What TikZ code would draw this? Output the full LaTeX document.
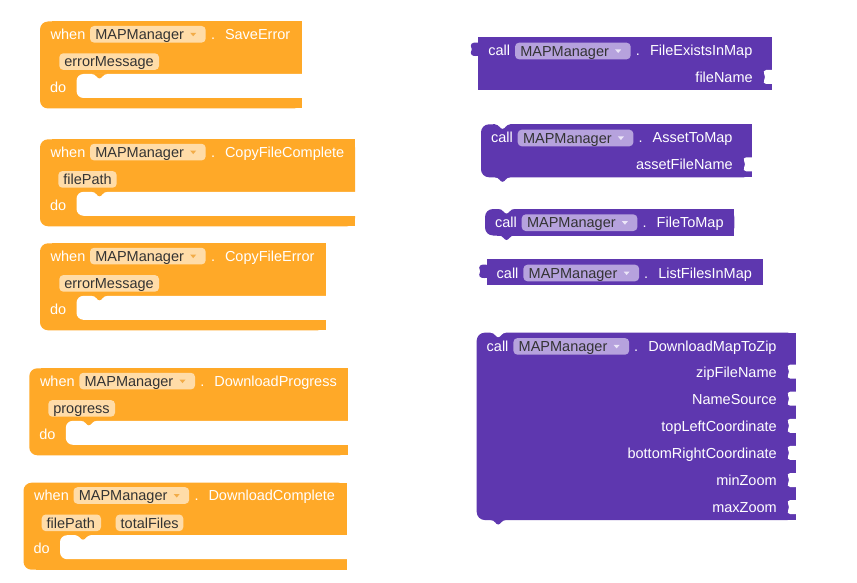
\documentclass[tikz,border=0pt]{standalone}
\usepackage{fontspec}
\setmainfont{Liberation Sans}
\definecolor{evo}{RGB}{255,169,40}
\definecolor{evpill}{RGB}{255,220,168}
\definecolor{evarrow}{RGB}{242,172,72}
\definecolor{pur}{RGB}{94,55,175}
\definecolor{purpill}{RGB}{182,162,221}
\definecolor{purarrow}{RGB}{236,230,248}
\definecolor{pilltext}{RGB}{51,51,51}
\tikzset{
  lbl/.style={inner sep=0pt, outer sep=0pt, text=white, font=\fontsize{14.5}{17}\selectfont},
  plbl/.style={lbl, text=pilltext},
}
% notch / tab of width 15, depth 4.5 (color, x, y)
\newcommand\dipnotch[3]{%
  \fill[#1] (#2,#3-0.6) -- (#2,#3) .. controls (#2+4,#3) and (#2+5,#3+4.5) .. (#2+7.5,#3+4.5)
    .. controls (#2+10,#3+4.5) and (#2+11,#3) .. (#2+15,#3) -- (#2+15,#3-0.6) -- cycle;}
% dropdown pill: name, x1, y1, x2, fill, arrow colour
\newcommand\ddpill[6]{%
  \fill[#5, rounded corners=4] (#2,#3) rectangle (#4,#3+16.6);
  \node[plbl, anchor=base west] (#1) at (#2+5.3,#3+13.5) {MAPManager};
  \fill[#6] (#4-15.5,#3+6.8) -- (#4-9.5,#3+6.8) -- (#4-12.5,#3+10.3) -- cycle;}
% parameter pill: name, x1, y1, x2, text
\newcommand\argpill[5]{%
  \fill[evpill, rounded corners=4] (#2,#3) rectangle (#4,#3+16.6);
  \node[plbl, anchor=base west] (#1) at (#2+5,#3+13.5) {#5};}
% event block body: prefix, L, T, R
\newcommand\evblk[4]{%
  \fill[evo, rounded corners=8] (#2,#3) rectangle (#4,#3+87);
  \fill[evo] (#2+12,#3) rectangle (#4,#3+87);
  \fill[white, rounded corners=7] (#2+36.5,#3+52.5) rectangle (#4+30,#3+76.5);
  \dipnotch{evo}{#2+52}{#3+52.5}
  \node[lbl, anchor=base west] (#1do) at (#2+10,#3+71) {do};}
% event header: prefix, L, T, event name
\newcommand\evhead[4]{%
  \node[lbl, anchor=base west] (#1when) at (#2+10.7,#3+18) {when};
  \ddpill{#1comp}{#2+50}{#3+4.5}{#2+165.7}{evpill}{evarrow}
  \node[lbl, anchor=base west] (#1dot) at (#2+171,#3+18) {.};
  \node[lbl, anchor=base west] (#1name) at (#2+185,#3+18) {#4};}
% output tab on the left: L, top
\newcommand\outtab[2]{%
  \fill[pur] (#1+1,#2) -- (#1,#2) .. controls (#1-3,#2-0.5) and (#1-7.5,#2-0.5) .. (#1-7.5,#2+3)
    .. controls (#1-7.5,#2+5) and (#1-6.5,#2+5.5) .. (#1-6.5,#2+6.5)
    .. controls (#1-6.5,#2+7.5) and (#1-7.5,#2+8) .. (#1-7.5,#2+10)
    .. controls (#1-7.5,#2+13.5) and (#1-3,#2+13.5) .. (#1,#2+13) -- (#1+1,#2+13) -- cycle;}
% input hole on the right: R, centre y
\newcommand\inhole[2]{%
  \fill[white] (#1+0.5,#2-7) -- (#1-5.5,#2-7) .. controls (#1-8,#2-7) and (#1-8.5,#2-5) .. (#1-7.5,#2-3)
    .. controls (#1-6.5,#2-1) and (#1-6.5,#2+1) .. (#1-7.5,#2+3)
    .. controls (#1-8.5,#2+5) and (#1-8,#2+7) .. (#1-5.5,#2+7) -- (#1+0.5,#2+7) -- cycle;}
% value block: L, T, R, B
\newcommand\valblk[4]{%
  \fill[pur] (#1,#2) rectangle (#3,#4);
  \outtab{#1}{#2+5.5}}
% statement block: L, T, R, B
\newcommand\stblk[4]{%
  \fill[pur, rounded corners=8] (#1,#2) rectangle (#3,#4);
  \fill[pur] (#1+12,#2) rectangle (#3,#4);
  \dipnotch{white}{#1+14}{#2}
  \dipnotch{pur}{#1+14}{#4}}
% call header: prefix, L, T, method name
\newcommand\callhead[4]{%
  \node[lbl, anchor=base west] (#1call) at (#2+10,#3+18.7) {call};
  \ddpill{#1comp}{#2+36.7}{#3+5.4}{#2+152.4}{purpill}{purarrow}
  \node[lbl, anchor=base west] (#1dot) at (#2+157.5,#3+18.7) {.};
  \node[lbl, anchor=base west] (#1name) at (#2+171.7,#3+18.7) {#4};}
% input row: name, R, baseline, text
\newcommand\inrow[4]{%
  \node[lbl, anchor=base east] (#1) at (#2-19,#3) {#4};
  \inhole{#2}{#3-5.7}}

\begin{document}
\begin{tikzpicture}[x=1pt,y=-1pt]
\fill[white] (0,0) rectangle (857,583);
\useasboundingbox (0,0) rectangle (857,583);

% ---- event blocks ----
\evblk{a}{40}{21.5}{301.7}
\evhead{a}{40}{21.5}{SaveError}
\argpill{aarg}{59.3}{21.5+31.8}{159}{errorMessage}

\evblk{b}{40}{139.3}{355}
\evhead{b}{40}{139.3}{CopyFileComplete}
\argpill{barg}{58.3}{139.3+31.8}{116.7}{filePath}

\evblk{c}{40}{243.3}{325.7}
\evhead{c}{40}{243.3}{CopyFileError}
\argpill{carg}{59.3}{243.3+31.8}{159}{errorMessage}

\evblk{d}{29.3}{368.3}{347.7}
\evhead{d}{29.3}{368.3}{DownloadProgress}
\argpill{darg}{48.3}{368.3+31.8}{115}{progress}

\evblk{e}{23.5}{482.7}{346.5}
\evhead{e}{23.5}{482.7}{DownloadComplete}
\argpill{eargA}{41.7}{482.7+31.8}{101}{filePath}
\argpill{eargB}{115.7}{482.7+31.8}{183.3}{totalFiles}

% ---- method blocks ----
\valblk{478.3}{37.3}{771.7}{90}
\callhead{p}{478.3}{37.3}{FileExistsInMap}
\inrow{pin}{771.7}{82.7}{fileName}

\stblk{481}{124.3}{751.7}{177.3}
\callhead{q}{481}{124.3}{AssetToMap}
\inrow{qin}{751.7}{170}{assetFileName}

\stblk{485}{209}{734.3}{235.5}
\callhead{r}{485}{209}{FileToMap}

\valblk{486.7}{259.3}{762.7}{285.3}
\callhead{s}{486.7}{259.3}{ListFilesInMap}

\stblk{476.7}{332.7}{795.7}{520}
\callhead{t}{476.7}{332.7}{DownloadMapToZip}
\inrow{tinA}{795.7}{377.3}{zipFileName}
\inrow{tinB}{795.7}{404.4}{NameSource}
\inrow{tinC}{795.7}{431.5}{topLeftCoordinate}
\inrow{tinD}{795.7}{458.6}{bottomRightCoordinate}
\inrow{tinE}{795.7}{485.7}{minZoom}
\inrow{tinF}{795.7}{512.8}{maxZoom}
\end{tikzpicture}
\end{document}
